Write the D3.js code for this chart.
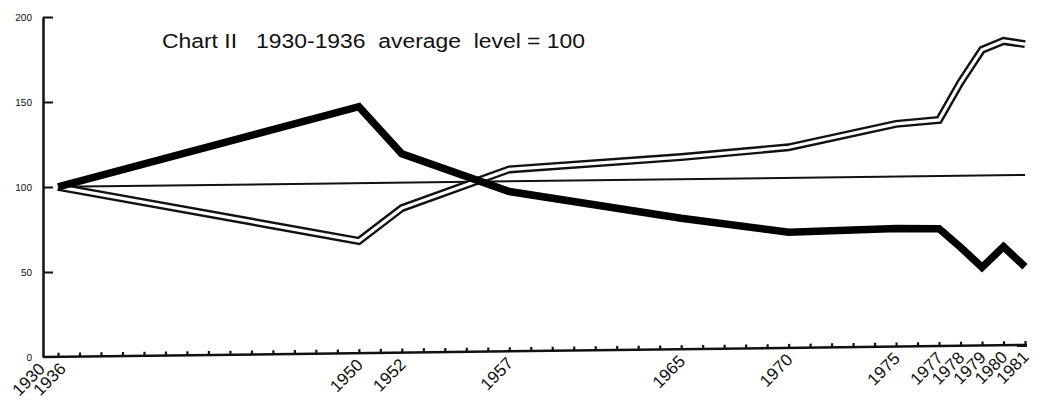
<!DOCTYPE html>
<html><head><meta charset="utf-8">
<script src="https://cdn.jsdelivr.net/npm/d3@7"></script>
<style>
html,body{margin:0;padding:0;background:#fff;}
svg{display:block;}
text{font-family:"Liberation Sans","DejaVu Sans",sans-serif;fill:#111;}
</style></head>
<body>
<svg id="c" width="1044" height="405"></svg>
<script>
const title = "Chart II   1930-1936  average  level = 100";
const years = [1936, 1950, 1952, 1957, 1965, 1970, 1975, 1977, 1978, 1979, 1980, 1981];
const seriesBlack = [100, 145, 117, 94, 77, 68, 69.5, 69, 58, 46, 58, 46];
const seriesDouble = [100, 66, 85, 107, 113, 118, 131, 133, 155, 174, 179, 177];
const baseYears = [1936, 1981];
const baseValues = [100, 100];
const xTickLabels = ["1930", "1936", "1950", "1952", "1957", "1965", "1970", "1975", "1977", "1978", "1979", "1980", "1981"];
const yTickValues = [0, 50, 100, 150, 200];

const svg = d3.select("#c");
const x = d3.scaleLinear().domain([1936, 1981]).range([58, 1025]);
const y = d3.scaleLinear().domain([0, 200]).range([357, 17]);
const x0 = 43;

svg.append("text").attr("x", 162).attr("y", 48)
  .attr("font-size", 20).attr("textLength", 423).attr("lengthAdjust", "spacingAndGlyphs")
  .attr("xml:space", "preserve").style("white-space", "pre")
  .text(title);

const g = svg.append("g")
  .attr("transform", `translate(${x0},0) skewY(-0.7) translate(${-x0},0)`);

// y axis
const yAx = g.append("g").attr("transform", `translate(${x0},0)`)
  .call(d3.axisLeft(y).tickValues(yTickValues).tickSizeInner(-10).tickSizeOuter(0).tickPadding(11));
yAx.select(".domain").attr("stroke", "#111").attr("stroke-width", 2.5);
yAx.selectAll(".tick line").attr("stroke", "#111").attr("stroke-width", 2)
  .filter(d => d === 0).remove();
yAx.selectAll(".tick text").attr("font-size", 10).style("font-family", "'Liberation Sans Narrow','Liberation Sans',sans-serif").attr("fill", "#111");

// x axis
g.append("line").attr("x1", x0).attr("x2", x(1981) + 2).attr("y1", y(0)).attr("y2", y(0))
  .attr("stroke", "#111").attr("stroke-width", 2.5);
const xAx = g.append("g").attr("transform", `translate(0,${y(0)})`)
  .call(d3.axisBottom(x).tickValues(d3.range(1936, 1982)).tickSizeInner(-4).tickSizeOuter(0).tickFormat(""));
xAx.select(".domain").remove();
xAx.selectAll(".tick line").attr("stroke", "#111").attr("stroke-width", 2.2);

const labelX = lab => {
  const yr = +lab;
  if (yr === 1930) return x(1936) - 12;
  if (yr === 1936) return x(1936) + 9;
  return x(yr) + 5;
};
g.selectAll("text.xl").data(xTickLabels).join("text").attr("class", "xl")
  .attr("text-anchor", "end").attr("font-size", 17)
  .attr("transform", d => `translate(${labelX(d)},${y(0) + 13}) rotate(-45)`)
  .text(d => d);

const line = d3.line().x(d => x(d[0])).y(d => y(d[1]));

// baseline 100
g.append("path").datum(d3.zip(baseYears, baseValues)).attr("d", line)
  .attr("fill", "none").attr("stroke", "#111").attr("stroke-width", 2);

// double line series
const dbl = d3.zip(years, seriesDouble);
g.append("path").datum(dbl).attr("d", line).attr("fill", "none")
  .attr("stroke", "#111").attr("stroke-width", 8).attr("stroke-linejoin", "miter");
g.append("path").datum(dbl).attr("d", line).attr("fill", "none")
  .attr("stroke", "#fff").attr("stroke-width", 3.2).attr("stroke-linejoin", "miter");

// thick black series
g.append("path").datum(d3.zip(years, seriesBlack)).attr("d", line).attr("fill", "none")
  .attr("stroke", "#000").attr("stroke-width", 7.5).attr("stroke-linejoin", "miter");
</script>
</body></html>
